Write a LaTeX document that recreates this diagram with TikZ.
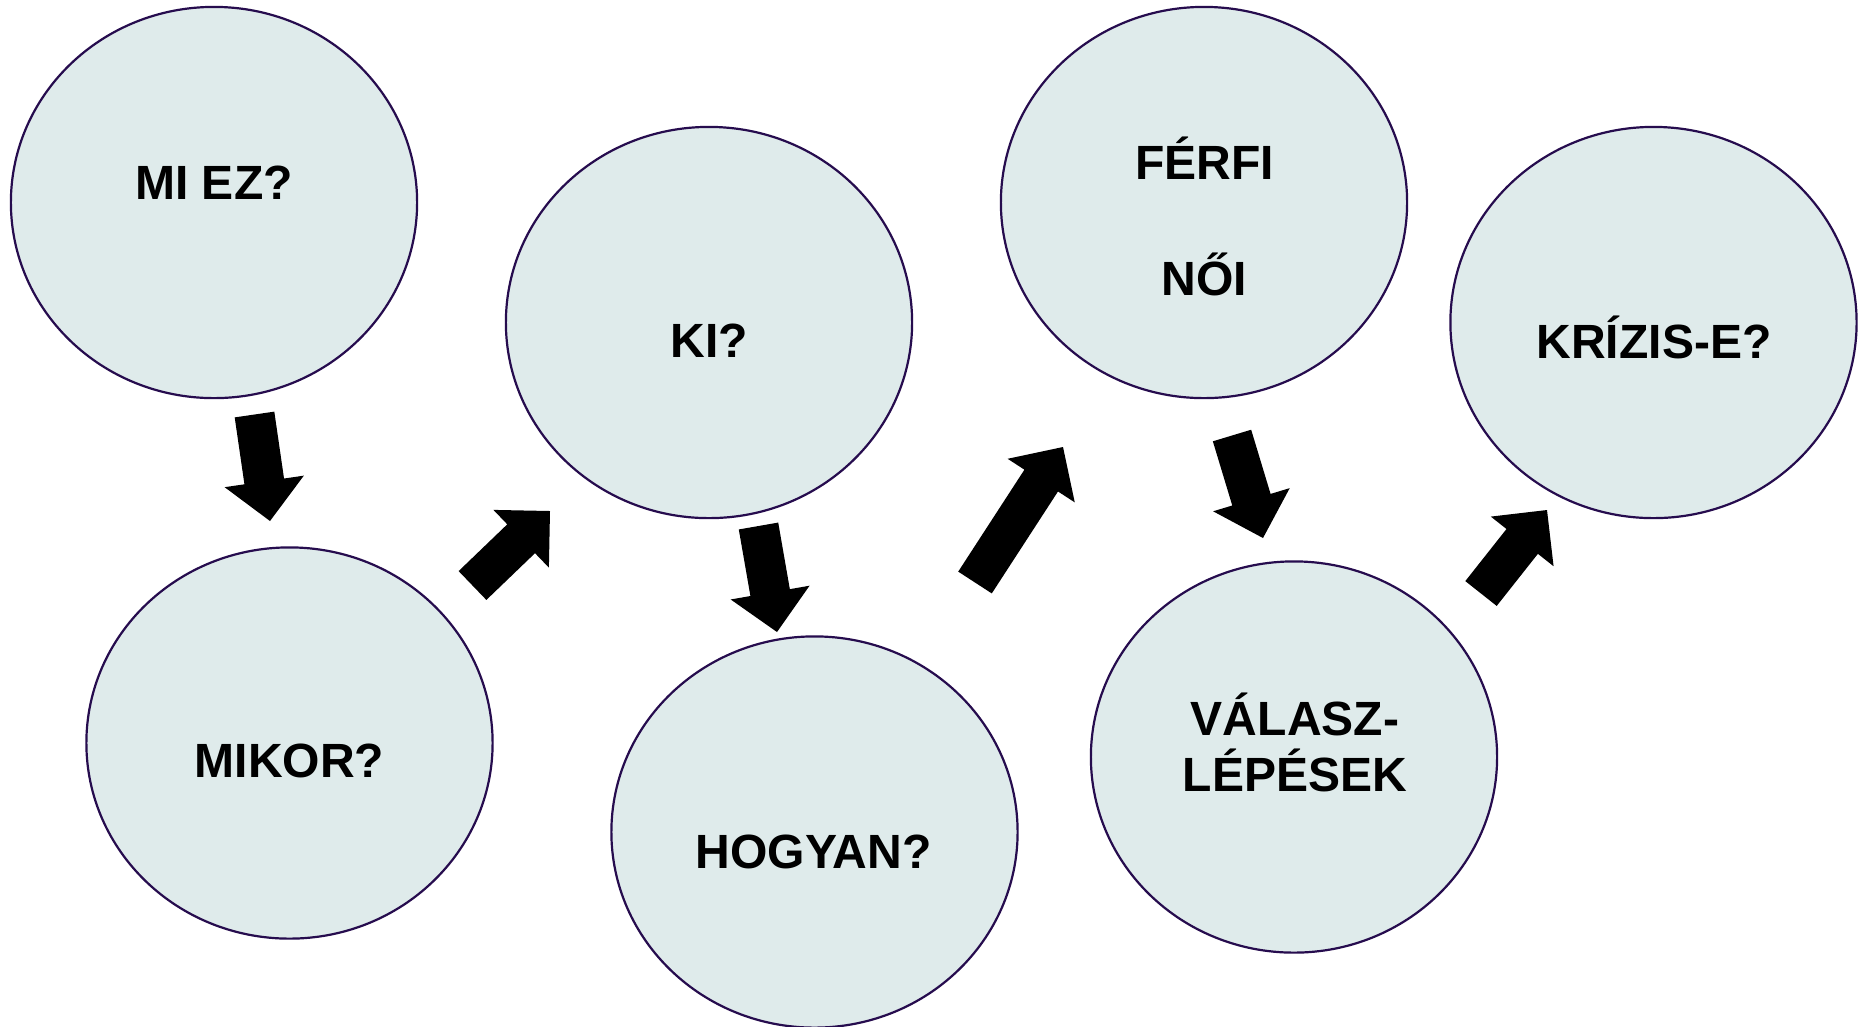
\documentclass[tikz,border=0pt]{standalone}
\usepackage{fontspec}
\setmainfont{Liberation Sans}
\usetikzlibrary{shapes.geometric,calc}
\definecolor{bubblefill}{RGB}{223,235,235}
\definecolor{bubbleline}{RGB}{38,12,78}
\tikzset{
  bubble/.style={ellipse, draw=bubbleline, fill=bubblefill, line width=0.022cm,
    minimum width=4.06cm, minimum height=3.91cm, inner sep=0pt, outer sep=0pt},
  lbl/.style={anchor=base, inner sep=0pt, font=\fontsize{13.66pt}{16pt}\selectfont\bfseries},
  arrowfill/.style={fill=black}
}
\newcommand{\blockarrow}[2]{%
  \coordinate (hb) at ($(#2)!0.4cm!(#1)$);
  \fill[arrowfill] ($(#1)!0.2cm!90:(#2)$) -- ($(hb)!0.2cm!90:(#2)$) -- ($(hb)!0.4cm!90:(#2)$)
    -- (#2) -- ($(hb)!0.4cm!-90:(#2)$) -- ($(hb)!0.2cm!-90:(#2)$) -- ($(#1)!0.2cm!-90:(#2)$) -- cycle;
}
\begin{document}
\begin{tikzpicture}[x=0.01cm, y=-0.01cm]
\useasboundingbox[fill=white] (0,0) rectangle (1860,1026);
% bubbles
\node[bubble] (e1) at (214,202.5) {};
\node[bubble] (e2) at (289.5,743) {};
\node[bubble] (e3) at (709,322.5) {};
\node[bubble] (e4) at (814.5,832) {};
\node[bubble] (e5) at (1204,202.5) {};
\node[bubble] (e6) at (1294,757) {};
\node[bubble] (e7) at (1653.5,322.5) {};
% labels
\node[lbl] (t1) at (214,199) {MI EZ?};
\node[lbl] (t2) at (289.5,777) {MIKOR?};
\node[lbl] (t3) at (709.5,357) {KI?};
\node[lbl] (t4) at (813.5,868) {HOGYAN?};
\node[lbl] (t5a) at (1204.5,179) {FÉRFI};
\node[lbl] (t5b) at (1204.5,295) {NŐI};
\node[lbl] (t6a) at (1295,735) {VÁLASZ-};
\node[lbl] (t6b) at (1295,791) {LÉPÉSEK};
\node[lbl] (t7) at (1654,358) {KRÍZIS-E?};
% arrow end points
\coordinate (a1s) at (254.5,414.5); \coordinate (a1e) at (270,521);
\coordinate (a2s) at (472.5,585.5); \coordinate (a2e) at (550,511);
\coordinate (a3s) at (758.5,526);   \coordinate (a3e) at (777,632);
\coordinate (a4s) at (975,582.5);   \coordinate (a4e) at (1063,447);
\coordinate (a5s) at (1232,435.5);  \coordinate (a5e) at (1263,538);
\coordinate (a6s) at (1481,593.5);  \coordinate (a6e) at (1547,510);
\blockarrow{a1s}{a1e}
\blockarrow{a2s}{a2e}
\blockarrow{a3s}{a3e}
\blockarrow{a4s}{a4e}
\blockarrow{a5s}{a5e}
\blockarrow{a6s}{a6e}
\end{tikzpicture}
\end{document}
